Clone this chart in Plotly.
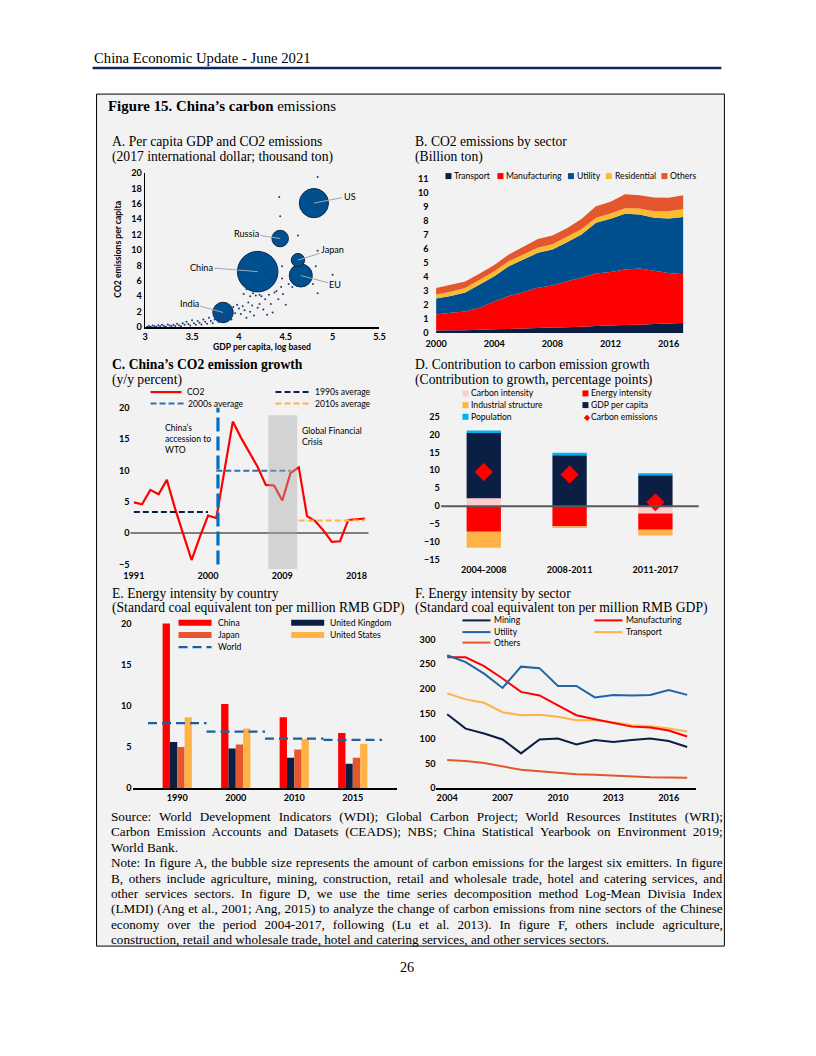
import json
import plotly.graph_objects as go

# page geometry: default body margin of 8px around the figure; the photo of the page is
# slightly scaled/offset, so target (photo) pixel positions are mapped back to page pixels.
PAGE_MARGIN = 8
W, H = 816 - 2 * PAGE_MARGIN, 1056 - 2 * PAGE_MARGIN
SX, OX = 0.984, 7.55
SY, OY = 0.9894, 5.0
K = 1 / 0.9867
def fx(x): return ((x - OX) / SX - PAGE_MARGIN) / W
def fy(y): return 1 - ((y - OY) / SY - PAGE_MARGIN) / H
def fs(s): return round(s * K, 2)

NAVY = "#0b1f45"; BLUE = "#00508f"; RED = "#ff0000"; ORANGE = "#ffb347"
OTHERS = "#e4572e"; YELLOW = "#fdbb30"; PINK = "#ffcccc"; CYAN = "#00b0f0"
MIDBLUE = "#1f5f9f"; SERIF = "Liberation Serif"; SANS = "Lato"

# ---------------- Panel A data ----------------
a_countries = ["China", "US", "EU", "India", "Russia", "Japan"]
a_gdp_log = [4.20, 4.80, 4.66, 3.83, 4.44, 4.63]
a_co2_pc = [7.2, 16.1, 6.7, 1.9, 11.5, 8.7]
a_emissions = [10.2, 5.3, 3.3, 2.6, 1.7, 1.1]
a_dot_gdp = [3.02, 3.04, 3.06, 3.08, 3.10, 3.12, 3.14, 3.16, 3.18, 3.20, 3.22, 3.24, 3.26, 3.28,
             3.30, 3.32, 3.34, 3.36, 3.38, 3.40, 3.42, 3.44, 3.46, 3.48, 3.50, 3.52, 3.54, 3.56,
             3.58, 3.60, 3.62, 3.64, 3.66, 3.68, 3.70, 3.72, 3.74, 3.76, 3.78, 3.80, 3.88, 3.90,
             3.92, 3.94, 3.96, 3.98, 4.00, 4.02, 4.04, 4.06, 4.08, 4.10, 4.12, 4.14, 4.16, 4.18,
             4.20, 4.22, 4.24, 4.26, 4.28, 4.30, 4.32, 4.34, 4.36, 4.38, 4.40, 4.42, 4.45, 4.47,
             4.50, 4.53, 4.12, 4.15, 4.08, 4.02, 4.26, 4.35, 4.46, 4.46, 4.43, 4.44, 4.63, 4.84,
             4.82, 4.84, 5.00, 4.84, 4.75, 4.79, 4.57, 4.22, 4.05, 4.28]
a_dot_co2 = [0.05, 0.15, 0.05, 0.2, 0.1, 0.05, 0.25, 0.1, 0.3, 0.15, 0.05, 0.35, 0.2, 0.1,
             0.3, 0.15, 0.45, 0.25, 0.1, 0.5, 0.3, 0.7, 0.4, 0.2, 0.9, 0.5, 0.3, 0.8,
             0.55, 0.35, 1.0, 0.7, 0.45, 1.2, 0.8, 0.5, 1.0, 1.5, 0.7, 1.1, 1.3, 2.2,
             1.0, 2.6, 1.8, 2.9, 2.4, 1.7, 2.7, 2.2, 1.2, 3.2, 2.0, 2.8, 1.5, 4.1,
             2.5, 3.0, 4.0, 2.3, 3.6, 1.6, 4.2, 3.0, 1.9, 4.5, 4.7, 3.6, 5.2, 4.3,
             2.9, 5.6, 4.0, 4.4, 4.9, 5.9, 7.5, 6.2, 7.9, 6.3, 16.9, 14.4, 11.9, 19.5,
             7.9, 9.9, 6.8, 4.4, 6.0, 5.6, 5.2, 4.2, 4.3, 6.9]
a_x_ticks = [3, 3.5, 4, 4.5, 5, 5.5]
a_y_ticks = list(range(0, 21, 2))

# ---------------- Panel B data ----------------
b_years = list(range(2000, 2018))
b_transport = [0.19, 0.20, 0.21, 0.24, 0.27, 0.30, 0.33, 0.36, 0.39, 0.42, 0.46, 0.50, 0.54, 0.57, 0.60, 0.64, 0.68, 0.72]
b_manufacturing = [1.14, 1.25, 1.33, 1.56, 1.98, 2.34, 2.59, 2.87, 3.01, 3.28, 3.48, 3.75, 3.81, 3.97, 4.00, 3.80, 3.60, 3.48]
b_utility = [1.14, 1.19, 1.36, 1.67, 1.81, 2.13, 2.33, 2.49, 2.56, 2.78, 3.09, 3.61, 3.80, 3.96, 3.86, 3.78, 3.89, 4.07]
b_residential = [0.28, 0.30, 0.32, 0.33, 0.34, 0.35, 0.36, 0.37, 0.38, 0.38, 0.38, 0.36, 0.37, 0.40, 0.42, 0.46, 0.52, 0.58]
b_others = [0.46, 0.50, 0.45, 0.45, 0.45, 0.48, 0.55, 0.62, 0.62, 0.62, 0.72, 0.83, 0.85, 1.00, 0.95, 0.98, 0.96, 0.98]
b_x_ticks = [2000, 2004, 2008, 2012, 2016]

# ---------------- Panel C data ----------------
c_years = list(range(1991, 2020))
c_co2 = [4.9, 4.6, 6.9, 6.2, 8.5, 3.9, -0.2, -4.3, -0.6, 2.8, 2.4, 9.9, 17.8, 15.2, 12.8, 10.6,
         7.7, 7.6, 5.2, 9.6, 10.5, 2.7, 1.9, 0.4, -1.4, -1.3, 2.1, 2.2, 2.3]
c_avg_1990s = 3.35
c_avg_2000s = 9.95
c_avg_2010s = 2.0
c_x_ticks = [1991, 2000, 2009, 2018]
c_y_ticks = [-5, 0, 5, 10, 15, 20]

# ---------------- Panel D data ----------------
d_periods = ["2004-2008", "2008-2011", "2011-2017"]
d_carbon_intensity = [2.2, 0.0, -2.05]
d_energy_intensity = [-7.1, -5.6, -4.5]
d_industrial_structure = [-4.5, -0.45, -1.6]
d_gdp_per_capita = [18.2, 14.2, 8.6]
d_population = [0.65, 0.65, 0.55]
d_carbon_emissions = [9.5, 8.8, 1.1]
d_y_ticks = [-15, -10, -5, 0, 5, 10, 15, 20, 25]

# ---------------- Panel E data ----------------
e_years = ["1990", "2000", "2010", "2015"]
e_china = [20.0, 10.2, 8.6, 6.7]
e_uk = [5.6, 4.8, 3.7, 2.95]
e_japan = [5.0, 5.3, 4.7, 3.7]
e_us = [8.6, 7.25, 6.0, 5.4]
e_world = [7.9, 6.85, 6.0, 5.85]
e_y_ticks = [0, 5, 10, 15, 20]

# ---------------- Panel F data ----------------
f_years = list(range(2004, 2018))
f_mining = [149, 120, 110, 98, 70, 98, 100, 88, 97, 93, 97, 100, 95, 83]
f_utility = [268, 254, 231, 202, 245, 242, 206, 206, 183, 188, 187, 188, 198, 188]
f_manufacturing = [264, 264, 246, 221, 194, 187, 167, 147, 139, 132, 124, 122, 116, 104]
f_transport = [191, 179, 172, 153, 147, 148, 144, 137, 137, 133, 127, 125, 120, 114]
f_others = [56.5, 54.5, 50.5, 43, 37, 34, 31, 28, 27, 25, 23.5, 22, 21.5, 21]
f_x_ticks = [2004, 2007, 2010, 2013, 2016]
f_y_ticks = [0, 50, 100, 150, 200, 250, 300]

fig = go.Figure()

# ---- A ----
max_d = 40.0 * K
fig.add_trace(go.Scatter(x=a_gdp_log, y=a_co2_pc, mode="markers", xaxis="x", yaxis="y",
    marker=dict(size=a_emissions, sizemode="area", sizeref=2 * max(a_emissions) / max_d ** 2,
                color=BLUE, opacity=1, line=dict(color="#0a2a50", width=1)), showlegend=False))
fig.add_trace(go.Scatter(x=a_dot_gdp, y=a_dot_co2, mode="markers", xaxis="x", yaxis="y",
    marker=dict(size=2.0, color="#1f3a6e", opacity=1), showlegend=False))

# ---- B ----
for name, vals, col in [("Transport", b_transport, NAVY), ("Manufacturing", b_manufacturing, RED),
                        ("Utility", b_utility, BLUE), ("Residential", b_residential, YELLOW),
                        ("Others", b_others, OTHERS)]:
    fig.add_trace(go.Scatter(x=b_years, y=vals, mode="none", stackgroup="b", fillcolor=col,
                             xaxis="x2", yaxis="y2", name=name, showlegend=False))

# ---- C ----
fig.add_trace(go.Scatter(x=c_years, y=c_co2, mode="lines", line=dict(color=RED, width=2.2),
                         xaxis="x3", yaxis="y3", showlegend=False))
y90 = [y for y in c_years if y <= 2000]
y00 = [y for y in c_years if 2001 <= y <= 2010]
y10 = [y for y in c_years if y >= 2011]
fig.add_trace(go.Scatter(x=[y90[0], y90[-1]], y=[c_avg_1990s] * 2, mode="lines",
                         line=dict(color=NAVY, width=2, dash="6px,3px"), xaxis="x3", yaxis="y3", showlegend=False))
fig.add_trace(go.Scatter(x=[y00[0], y00[-1]], y=[c_avg_2000s] * 2, mode="lines",
                         line=dict(color="#2e6fb0", width=2, dash="6px,3px"), xaxis="x3", yaxis="y3", showlegend=False))
fig.add_trace(go.Scatter(x=[y10[0], y10[-1]], y=[c_avg_2010s] * 2, mode="lines",
                         line=dict(color=ORANGE, width=2, dash="6px,3px"), xaxis="x3", yaxis="y3", showlegend=False))

# ---- D ----
d_x = list(range(len(d_periods)))
for vals, col in [(d_carbon_intensity, PINK), (d_energy_intensity, RED),
                  (d_industrial_structure, ORANGE), (d_gdp_per_capita, NAVY), (d_population, CYAN)]:
    fig.add_trace(go.Bar(x=d_x, y=vals, width=0.4, marker=dict(color=col, line=dict(width=0)),
                         xaxis="x4", yaxis="y4", showlegend=False))
fig.add_trace(go.Scatter(x=d_x, y=d_carbon_emissions, mode="markers",
                         marker=dict(symbol="diamond", size=14, color=RED), xaxis="x4", yaxis="y4", showlegend=False))

# ---- E ----
e_x = list(range(len(e_years)))
bw = 0.125
for k, (vals, col) in enumerate([(e_china, RED), (e_uk, NAVY), (e_japan, OTHERS), (e_us, ORANGE)]):
    shift = (k - 1.5) * bw
    fig.add_trace(go.Bar(x=[i + shift for i in e_x], y=vals, width=bw, marker=dict(color=col, line=dict(width=0)),
                         xaxis="x5", yaxis="y5", showlegend=False))
wx, wy = [], []
for i, v in zip(e_x, e_world):
    wx += [i - 0.5, i + 0.5, None]
    wy += [v, v, None]
fig.add_trace(go.Scatter(x=wx, y=wy, mode="lines", line=dict(color=MIDBLUE, width=2.2, dash="9px,5px"),
                         xaxis="x5", yaxis="y5", showlegend=False))

# ---- F ----
for vals, col in [(f_others, OTHERS), (f_mining, NAVY), (f_transport, ORANGE),
                  (f_manufacturing, RED), (f_utility, "#1f64a6")]:
    fig.add_trace(go.Scatter(x=f_years, y=vals, mode="lines", line=dict(color=col, width=2),
                             xaxis="x6", yaxis="y6", showlegend=False))

TF = dict(family=SANS, size=fs(9), color="black", weight="bold")
def ax(dom, rng, **kw):
    d = dict(domain=dom, range=rng, showgrid=False, zeroline=False, ticks="", tickfont=TF,
             fixedrange=True)
    d.update(kw)
    return d

layout = dict(
    width=W, height=H, margin=dict(l=0, r=0, t=0, b=0), paper_bgcolor="white",
    plot_bgcolor="rgba(0,0,0,0)", barmode="relative", font=dict(family=SANS, color="black"),
    showlegend=False,
    # A
    xaxis=ax([fx(145.7), fx(380)], [3, 5.5], anchor="y", tickvals=a_x_ticks, showline=True,
             linecolor="black", linewidth=1.5),
    yaxis=ax([fy(326), fy(172)], [0, 20], anchor="x", tickvals=a_y_ticks, showline=True,
             linecolor="black", linewidth=1.5),
    # B
    xaxis2=ax([fx(430), fx(690)], [1999.54, 2017.43], anchor="y2", tickvals=b_x_ticks,
              ticklabelstandoff=4),
    yaxis2=ax([fy(332), fy(177.7)], [0, 11], anchor="x2", dtick=1),
    # C
    xaxis3=ax([fx(131), fx(369)], [1990.6, 2019.45], anchor="y3", tickvals=c_x_ticks),
    yaxis3=ax([fy(568), fy(400)], [-5.75, 21.07], anchor="x3", tickvals=c_y_ticks),
    # D
    xaxis4=ax([fx(441.4), fx(698.9)], [-0.5, 2.5], anchor="y4", tickvals=d_x, ticktext=d_periods),
    yaxis4=ax([fy(562), fy(408)], [-15.84, 27.03], anchor="x4", tickvals=d_y_ticks),
    # E
    xaxis5=ax([fx(133), fx(398)], [-0.764, 3.764], anchor="y5", tickvals=e_x, ticktext=e_years,
              showline=True, linecolor="black", linewidth=1.5),
    yaxis5=ax([fy(787), fy(615)], [0, 20.89], anchor="x5", tickvals=e_y_ticks),
    # F
    xaxis6=ax([fx(437), fx(697)], [2003.42, 2017.5], anchor="y6", tickvals=f_x_ticks,
              showline=True, linecolor="black", linewidth=1.5),
    yaxis6=ax([fy(787), fy(630)], [0, 316.7], anchor="x6", tickvals=f_y_ticks),
)

shapes = []
annotations = []

def rect(x0, y0, x1, y1, fill, line=None, layer="above"):
    shapes.append(dict(type="rect", xref="paper", yref="paper", x0=fx(x0), x1=fx(x1), y0=fy(y0), y1=fy(y1),
                       fillcolor=fill, line=line or dict(width=0), layer=layer))

def hline(x0, x1, y, color, width, dash="solid"):
    shapes.append(dict(type="line", xref="paper", yref="paper", x0=fx(x0), x1=fx(x1), y0=fy(y), y1=fy(y),
                       line=dict(color=color, width=width, dash=dash)))

def text(x, y, s, size=9, family=SANS, anchor="left", bold=False, color="black", angle=0, align="left"):
    annotations.append(dict(xref="paper", yref="paper", x=fx(x), y=fy(y), text=s, showarrow=False,
                            xanchor=anchor, yanchor="middle", textangle=angle, align=align,
                            font=dict(family=family, size=fs(size), color=color,
                                      weight="bold" if bold else "normal")))

# page elements
rect(97, 93, 725, 945, "#f2f2f2", dict(color="black", width=1), layer="below")
hline(93, 722, 67, "#0b2a63", 2.5)
text(92, 57, "China Economic Update - June 2021", size=14.5, family=SERIF)
text(106, 105, "<b>Figure 15. China’s carbon</b> emissions", size=14.7, family=SERIF)
text(408, 966, "26", size=14, family=SERIF, anchor="center")

# panel titles
TS = 13.45
text(110, 140, "A. Per capita GDP and CO2 emissions", size=TS, family=SERIF)
text(110, 156, "(2017 international dollar; thousand ton)", size=TS, family=SERIF)
text(414, 140, "B. CO2 emissions by sector", size=TS, family=SERIF)
text(414, 156, "(Billion ton)", size=TS, family=SERIF)
text(110, 363, "<b>C. China’s CO2 emission growth</b>", size=TS, family=SERIF)
text(110, 379, "(y/y percent)", size=TS, family=SERIF)
text(414, 363, "D. Contribution to carbon emission growth", size=TS, family=SERIF)
text(414, 379, "(Contribution to growth, percentage points)", size=TS, family=SERIF)
text(110, 592, "E. Energy intensity by country", size=TS, family=SERIF)
text(110, 607, "(Standard coal equivalent ton per million RMB GDP)", size=TS, family=SERIF)
text(414, 592, "F. Energy intensity by sector", size=TS, family=SERIF)
text(414, 607, "(Standard coal equivalent ton per million RMB GDP)", size=TS, family=SERIF)

# A labels
text(119, 248, "CO2 emissions per capita", size=8.5, bold=True, anchor="center", angle=-90)
text(262, 346, "GDP per capita, log based", size=8.5, bold=True, anchor="center")
a_label_pos = {"China": (3.60, 7.8), "US": (5.18, 17.0), "EU": (5.03, 5.5),
               "India": (3.47, 3.1), "Russia": (4.08, 12.2), "Japan": (5.0, 10.1)}
for c, gx, gy in zip(a_countries, a_gdp_log, a_co2_pc):
    lx, ly = a_label_pos[c]
    annotations.append(dict(xref="x", yref="y", x=gx, y=gy, axref="x", ayref="y", ax=lx, ay=ly,
                            text=c, showarrow=True, arrowhead=0, arrowwidth=1, arrowcolor="#a6a6a6",
                            standoff=0, font=dict(family=SANS, size=fs(9), color="black")))

# B legend
for sx, tx, lab, col in [(446, 453, "Transport", NAVY), (498, 505, "Manufacturing", RED),
                         (568.5, 575.5, "Utility", BLUE), (606.5, 613.5, "Residential", YELLOW),
                         (662, 669, "Others", OTHERS)]:
    rect(sx, 172, sx + 6, 178, col)
    text(tx, 175, lab, size=8.5)

# C extras
shapes.append(dict(type="line", xref="paper", yref="y3", x0=fx(131), x1=fx(369), y0=0, y1=0,
                   line=dict(color="#595959", width=1.5), layer="below"))
shapes.append(dict(type="line", xref="x3", yref="y3", x0=2001.2, x1=2001.2, y0=-5, y1=20,
                   line=dict(color="#0070c0", width=3.2, dash="14px,5px")))
shapes.append(dict(type="rect", xref="x3", yref="y3", x0=2007.3, x1=2010.8, y0=-5.75, y1=18.8,
                   fillcolor="rgba(170,170,170,0.42)", line=dict(width=0), layer="above"))
hline(151, 182, 391, RED, 2.2)
text(185, 391, "CO2", size=8.5)
hline(151, 185, 402.5, "#2e6fb0", 2, "6px,3px")
text(186, 402.5, "2000s average", size=8.5)
hline(276, 310, 391, NAVY, 2, "6px,3px")
text(313, 391, "1990s average", size=8.5)
hline(276, 310, 402.5, ORANGE, 2, "6px,3px")
text(313, 402.5, "2010s average", size=8.5)
text(163, 437.5, "China’s<br>accession to<br>WTO", size=8.5)
text(300, 435, "Global Financial<br>Crisis", size=8.5)

# D extras
shapes.append(dict(type="line", xref="paper", yref="y4", x0=fx(441.7), x1=fx(699.3), y0=0, y1=0,
                   line=dict(color="#595959", width=2)))
for sx, sy, lab, col in [(463, 392.3, "Carbon intensity", PINK), (583, 392.3, "Energy intensity", RED),
                         (463, 404, "Industrial structure", ORANGE), (583, 404, "GDP per capita", NAVY),
                         (463, 415.7, "Population", CYAN)]:
    rect(sx, sy - 3, sx + 6, sy + 3, col)
    text(sx + 7, sy, lab, size=8.5)
text(582.5, 415.7, "<span style='color:#ff0000'>◆</span>", size=8)
text(590, 415.7, "Carbon emissions", size=8.5)

# E legend
for bx, by, lab, col in [(179, 621.7, "China", RED), (179, 634, "Japan", OTHERS),
                         (291.7, 621.7, "United Kingdom", NAVY), (291.7, 634, "United States", ORANGE)]:
    rect(bx, by - 3, bx + 33, by + 3, col)
    text(bx + 37, by, lab, size=8.5)
hline(179, 212, 646, MIDBLUE, 2.2, "9px,5px")
text(216, 646, "World", size=8.5)

# F legend
for lx, ly, lab, col in [(463, 619.3, "Mining", NAVY), (463, 631, "Utility", "#1f64a6"),
                         (463, 641.5, "Others", OTHERS), (595, 619.3, "Manufacturing", RED),
                         (595, 631, "Transport", ORANGE)]:
    hline(lx, lx + 28, ly, col, 2)
    text(lx + 30, ly, lab, size=8.5)

# source / notes
note_lines = [
    "Source: World Development Indicators (WDI); Global Carbon Project; World Resources Institutes (WRI);",
    "Carbon Emission Accounts and Datasets (CEADS); NBS; China Statistical Yearbook on Environment 2019;",
    "World Bank.",
    "Note: In figure A, the bubble size represents the amount of carbon emissions for the largest six emitters. In figure",
    "B, others include agriculture, mining, construction, retail and wholesale trade, hotel and catering services, and",
    "other services sectors. In figure D, we use the time series decomposition method Log-Mean Divisia Index",
    "(LMDI) (Ang et al., 2001; Ang, 2015) to analyze the change of carbon emissions from nine sectors of the Chinese",
    "economy over the period 2004-2017, following (Lu et al. 2013). In figure F, others include agriculture,",
    "construction, retail and wholesale trade, hotel and catering services, and other services sectors.",
]
note_y = [815, 830.5, 846, 861.5, 877, 892.3, 907.7, 923, 938.3]
justify = [0, 1, 3, 4, 5, 6, 7]
for s, y in zip(note_lines, note_y):
    text(109, y, s, size=13, family=SERIF)

layout["shapes"] = shapes
layout["annotations"] = annotations
fig.update_layout(**layout)

just_w = 602 / SX
just_texts = json.dumps([note_lines[i] for i in justify])
post = """
var J = %s;
var gd = document.getElementById('{plot_id}');
gd.querySelectorAll('text.annotation-text').forEach(function(t){
  var s = t.textContent;
  if (J.indexOf(s) < 0) return;
  var b = t.getBBox();
  var n = (s.match(/ /g) || []).length;
  var extra = %f - b.width;
  if (n > 0 && extra > 0) {
    t.setAttribute('text-anchor', 'start');
    t.setAttribute('x', b.x);
    t.style.wordSpacing = (extra / n) + 'px';
  }
});
""" % (just_texts, just_w)

fig.write_html("out.html", include_plotlyjs=True, config={"displayModeBar": False, "staticPlot": True},
               post_script=post)
